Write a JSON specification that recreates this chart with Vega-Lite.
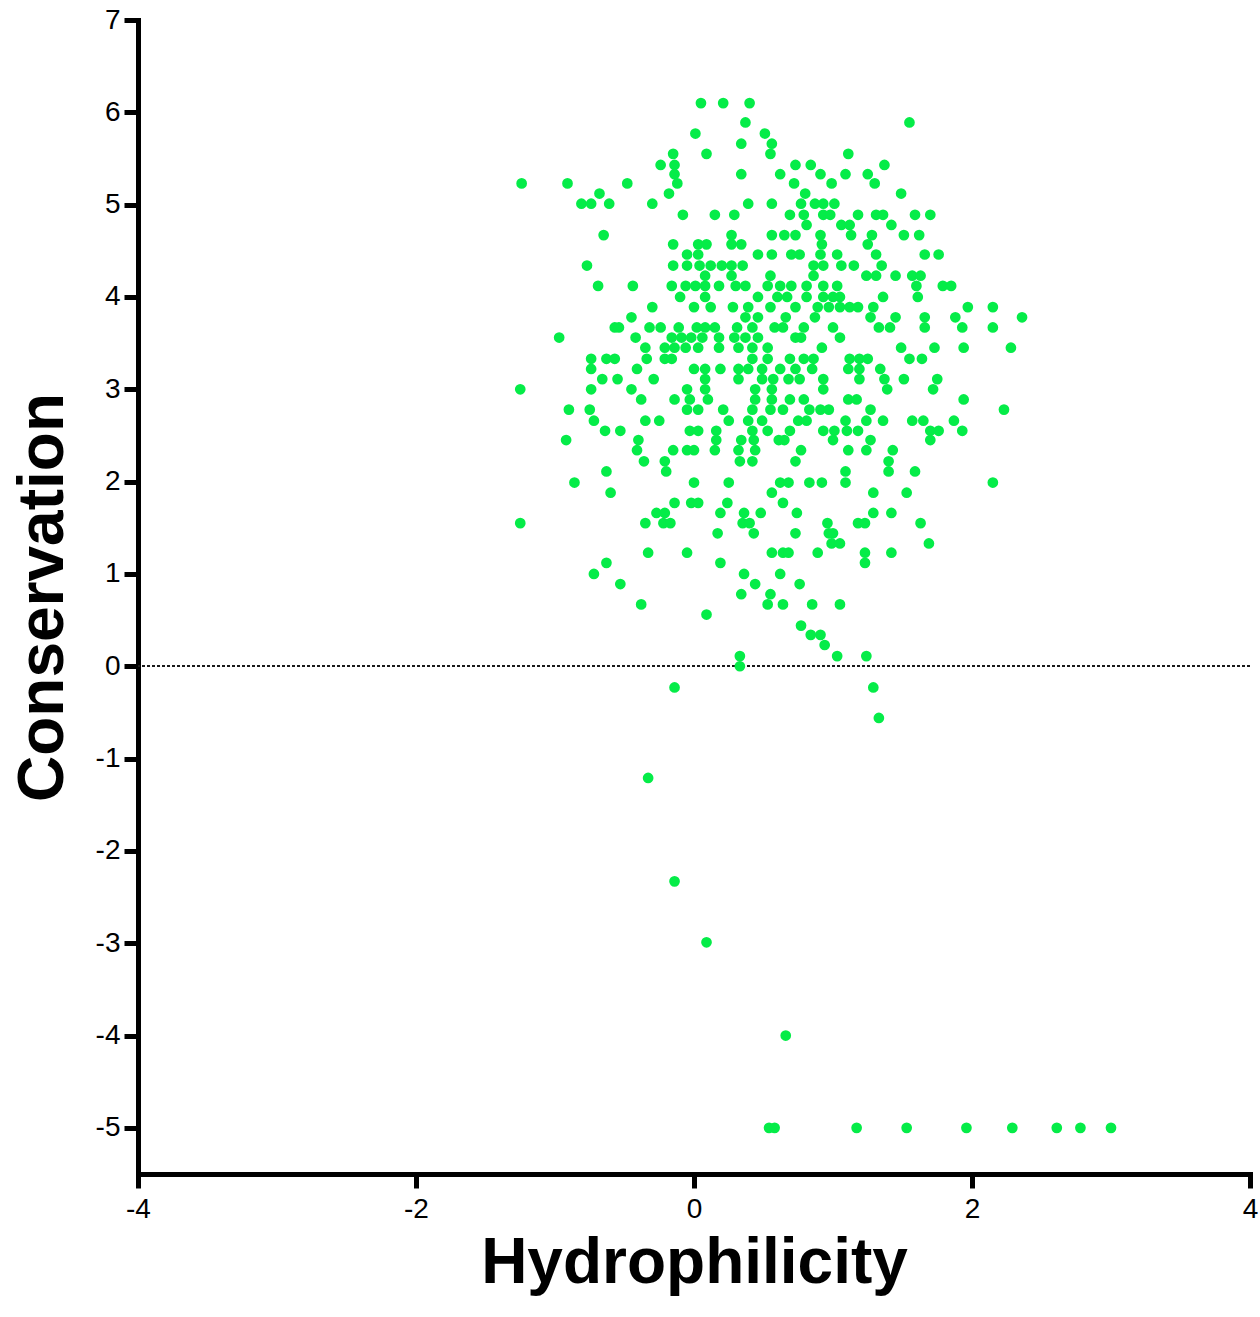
{
  "$schema": "https://vega.github.io/schema/vega-lite/v6.json",
  "width": 1112,
  "height": 1154,
  "autosize": {"type": "none"},
  "padding": {"left": 138, "top": 20, "right": 10, "bottom": 143},
  "background": "white",
  "config": {
    "view": {"stroke": null},
    "axis": {
      "grid": false,
      "domainColor": "#000000",
      "domainWidth": 5,
      "domainCap": "square",
      "tickColor": "#000000",
      "tickWidth": 5,
      "tickSize": 14,
      "labelFont": "Liberation Sans",
      "labelFontSize": 28,
      "labelColor": "#000000",
      "labelExpr": "'' + datum.value",
      "titleFont": "Liberation Sans",
      "titleFontWeight": "bold",
      "titleFontSize": 64,
      "titleColor": "#000000"
    }
  },
  "data": {
    "values": [
      {"h":0.05,"c":6.1},{"h":0.21,"c":6.1},{"h":0.40,"c":6.1},
      {"h":0.37,"c":5.89},{"h":1.55,"c":5.89},
      {"h":0.01,"c":5.77},{"h":0.51,"c":5.77},
      {"h":0.34,"c":5.66},{"h":0.56,"c":5.66},
      {"h":-0.15,"c":5.55},{"h":0.09,"c":5.55},{"h":0.55,"c":5.55},{"h":1.11,"c":5.55},
      {"h":-0.24,"c":5.43},{"h":-0.14,"c":5.43},{"h":0.73,"c":5.43},{"h":0.84,"c":5.43},{"h":1.37,"c":5.43},
      {"h":-0.14,"c":5.33},{"h":0.34,"c":5.33},{"h":0.62,"c":5.33},{"h":0.91,"c":5.33},{"h":1.09,"c":5.33},{"h":1.25,"c":5.33},
      {"h":-1.24,"c":5.23},{"h":-0.91,"c":5.23},{"h":-0.48,"c":5.23},{"h":-0.12,"c":5.23},{"h":0.72,"c":5.23},{"h":0.99,"c":5.23},{"h":1.3,"c":5.23},
      {"h":-0.68,"c":5.12},{"h":-0.18,"c":5.12},{"h":0.8,"c":5.12},{"h":1.49,"c":5.12},
      {"h":-0.81,"c":5.01},{"h":-0.74,"c":5.01},{"h":-0.61,"c":5.01},{"h":-0.3,"c":5.01},{"h":0.39,"c":5.01},{"h":0.56,"c":5.01},{"h":0.77,"c":5.01},{"h":0.87,"c":5.01},{"h":0.93,"c":5.01},{"h":1.01,"c":5.01},
      {"h":-0.08,"c":4.89},{"h":0.15,"c":4.89},{"h":0.29,"c":4.89},{"h":0.69,"c":4.89},{"h":0.79,"c":4.89},{"h":0.93,"c":4.89},{"h":0.98,"c":4.89},{"h":1.18,"c":4.89},{"h":1.31,"c":4.89},{"h":1.36,"c":4.89},{"h":1.59,"c":4.89},{"h":1.7,"c":4.89},
      {"h":0.81,"c":4.78},{"h":1.06,"c":4.78},{"h":1.12,"c":4.78},{"h":1.42,"c":4.78},
      {"h":-0.65,"c":4.67},{"h":0.27,"c":4.67},{"h":0.56,"c":4.67},{"h":0.65,"c":4.67},{"h":0.73,"c":4.67},{"h":0.91,"c":4.67},{"h":1.13,"c":4.67},{"h":1.28,"c":4.67},{"h":1.51,"c":4.67},{"h":1.62,"c":4.67},
      {"h":-0.15,"c":4.57},{"h":0.03,"c":4.57},{"h":0.09,"c":4.57},{"h":0.27,"c":4.57},{"h":0.34,"c":4.57},{"h":0.92,"c":4.57},{"h":1.25,"c":4.57},
      {"h":-0.05,"c":4.46},{"h":0.03,"c":4.46},{"h":0.46,"c":4.46},{"h":0.56,"c":4.46},{"h":0.7,"c":4.46},{"h":0.76,"c":4.46},{"h":0.91,"c":4.46},{"h":1.03,"c":4.46},{"h":1.31,"c":4.46},{"h":1.66,"c":4.46},{"h":1.76,"c":4.46},
      {"h":-0.77,"c":4.34},{"h":-0.15,"c":4.34},{"h":-0.05,"c":4.34},{"h":0.04,"c":4.34},{"h":0.12,"c":4.34},{"h":0.2,"c":4.34},{"h":0.27,"c":4.34},{"h":0.35,"c":4.34},{"h":0.86,"c":4.34},{"h":0.93,"c":4.34},{"h":1.06,"c":4.34},{"h":1.15,"c":4.34},{"h":1.35,"c":4.34},
      {"h":0.08,"c":4.23},{"h":0.27,"c":4.23},{"h":0.55,"c":4.23},{"h":0.86,"c":4.23},{"h":1.24,"c":4.23},{"h":1.31,"c":4.23},{"h":1.45,"c":4.23},{"h":1.57,"c":4.23},{"h":1.63,"c":4.23},
      {"h":-0.69,"c":4.12},{"h":-0.44,"c":4.12},{"h":-0.16,"c":4.12},{"h":-0.06,"c":4.12},{"h":0.01,"c":4.12},{"h":0.08,"c":4.12},{"h":0.18,"c":4.12},{"h":0.3,"c":4.12},{"h":0.37,"c":4.12},{"h":0.53,"c":4.12},{"h":0.62,"c":4.12},{"h":0.7,"c":4.12},{"h":0.81,"c":4.12},{"h":0.93,"c":4.12},{"h":1.03,"c":4.12},{"h":1.6,"c":4.12},{"h":1.79,"c":4.12},{"h":1.85,"c":4.12},
      {"h":-0.1,"c":4.0},{"h":0.08,"c":4.0},{"h":0.46,"c":4.0},{"h":0.6,"c":4.0},{"h":0.67,"c":4.0},{"h":0.81,"c":4.0},{"h":0.93,"c":4.0},{"h":1.0,"c":4.0},{"h":1.05,"c":4.0},{"h":1.36,"c":4.0},{"h":1.61,"c":4.0},
      {"h":-0.3,"c":3.89},{"h":0.0,"c":3.89},{"h":0.12,"c":3.89},{"h":0.28,"c":3.89},{"h":0.39,"c":3.89},{"h":0.55,"c":3.89},{"h":0.73,"c":3.89},{"h":0.89,"c":3.89},{"h":0.97,"c":3.89},{"h":1.05,"c":3.89},{"h":1.12,"c":3.89},{"h":1.18,"c":3.89},{"h":1.29,"c":3.89},{"h":1.97,"c":3.89},{"h":2.15,"c":3.89},
      {"h":-0.45,"c":3.78},{"h":0.37,"c":3.78},{"h":0.46,"c":3.78},{"h":0.66,"c":3.78},{"h":0.87,"c":3.78},{"h":1.27,"c":3.78},{"h":1.45,"c":3.78},{"h":1.66,"c":3.78},{"h":1.88,"c":3.78},{"h":2.36,"c":3.78},
      {"h":-0.57,"c":3.67},{"h":-0.54,"c":3.67},{"h":-0.32,"c":3.67},{"h":-0.24,"c":3.67},{"h":-0.11,"c":3.67},{"h":0.02,"c":3.67},{"h":0.08,"c":3.67},{"h":0.15,"c":3.67},{"h":0.31,"c":3.67},{"h":0.42,"c":3.67},{"h":0.58,"c":3.67},{"h":0.64,"c":3.67},{"h":0.79,"c":3.67},{"h":1.0,"c":3.67},{"h":1.33,"c":3.67},{"h":1.41,"c":3.67},{"h":1.66,"c":3.67},{"h":1.93,"c":3.67},{"h":2.15,"c":3.67},
      {"h":-0.97,"c":3.56},{"h":-0.42,"c":3.56},{"h":-0.16,"c":3.56},{"h":-0.09,"c":3.56},{"h":-0.02,"c":3.56},{"h":0.06,"c":3.56},{"h":0.18,"c":3.56},{"h":0.29,"c":3.56},{"h":0.37,"c":3.56},{"h":0.46,"c":3.56},{"h":0.73,"c":3.56},{"h":0.77,"c":3.56},{"h":1.05,"c":3.56},
      {"h":-0.35,"c":3.45},{"h":-0.21,"c":3.45},{"h":-0.14,"c":3.45},{"h":-0.06,"c":3.45},{"h":0.03,"c":3.45},{"h":0.18,"c":3.45},{"h":0.32,"c":3.45},{"h":0.42,"c":3.45},{"h":0.53,"c":3.45},{"h":0.92,"c":3.45},{"h":1.49,"c":3.45},{"h":1.73,"c":3.45},{"h":1.94,"c":3.45},{"h":2.28,"c":3.45},
      {"h":-0.74,"c":3.33},{"h":-0.63,"c":3.33},{"h":-0.57,"c":3.33},{"h":-0.34,"c":3.33},{"h":-0.21,"c":3.33},{"h":-0.16,"c":3.33},{"h":0.42,"c":3.33},{"h":0.53,"c":3.33},{"h":0.69,"c":3.33},{"h":0.79,"c":3.33},{"h":0.86,"c":3.33},{"h":1.12,"c":3.33},{"h":1.19,"c":3.33},{"h":1.25,"c":3.33},{"h":1.55,"c":3.33},{"h":1.64,"c":3.33},
      {"h":-0.74,"c":3.22},{"h":-0.41,"c":3.22},{"h":0.0,"c":3.22},{"h":0.08,"c":3.22},{"h":0.19,"c":3.22},{"h":0.32,"c":3.22},{"h":0.39,"c":3.22},{"h":0.49,"c":3.22},{"h":0.62,"c":3.22},{"h":0.73,"c":3.22},{"h":0.85,"c":3.22},{"h":1.11,"c":3.22},{"h":1.19,"c":3.22},{"h":1.34,"c":3.22},
      {"h":-0.66,"c":3.11},{"h":-0.55,"c":3.11},{"h":-0.29,"c":3.11},{"h":0.08,"c":3.11},{"h":0.32,"c":3.11},{"h":0.49,"c":3.11},{"h":0.57,"c":3.11},{"h":0.68,"c":3.11},{"h":0.76,"c":3.11},{"h":0.93,"c":3.11},{"h":1.19,"c":3.11},{"h":1.37,"c":3.11},{"h":1.51,"c":3.11},{"h":1.75,"c":3.11},
      {"h":-1.25,"c":3.0},{"h":-0.74,"c":3.0},{"h":-0.45,"c":3.0},{"h":-0.05,"c":3.0},{"h":0.08,"c":3.0},{"h":0.44,"c":3.0},{"h":0.56,"c":3.0},{"h":0.93,"c":3.0},{"h":1.39,"c":3.0},{"h":1.72,"c":3.0},
      {"h":-0.38,"c":2.89},{"h":-0.14,"c":2.89},{"h":-0.03,"c":2.89},{"h":0.1,"c":2.89},{"h":0.44,"c":2.89},{"h":0.56,"c":2.89},{"h":0.69,"c":2.89},{"h":0.79,"c":2.89},{"h":1.11,"c":2.89},{"h":1.17,"c":2.89},{"h":1.94,"c":2.89},
      {"h":-0.9,"c":2.78},{"h":-0.75,"c":2.78},{"h":-0.05,"c":2.78},{"h":0.03,"c":2.78},{"h":0.21,"c":2.78},{"h":0.42,"c":2.78},{"h":0.55,"c":2.78},{"h":0.64,"c":2.78},{"h":0.83,"c":2.78},{"h":0.91,"c":2.78},{"h":0.97,"c":2.78},{"h":1.27,"c":2.78},{"h":2.23,"c":2.78},
      {"h":-0.72,"c":2.66},{"h":-0.35,"c":2.66},{"h":-0.25,"c":2.66},{"h":0.25,"c":2.66},{"h":0.39,"c":2.66},{"h":0.49,"c":2.66},{"h":0.75,"c":2.66},{"h":0.81,"c":2.66},{"h":1.09,"c":2.66},{"h":1.24,"c":2.66},{"h":1.36,"c":2.66},{"h":1.57,"c":2.66},{"h":1.65,"c":2.66},{"h":1.87,"c":2.66},
      {"h":-0.64,"c":2.55},{"h":-0.53,"c":2.55},{"h":-0.03,"c":2.55},{"h":0.03,"c":2.55},{"h":0.16,"c":2.55},{"h":0.42,"c":2.55},{"h":0.53,"c":2.55},{"h":0.69,"c":2.55},{"h":0.93,"c":2.55},{"h":1.01,"c":2.55},{"h":1.1,"c":2.55},{"h":1.18,"c":2.55},{"h":1.7,"c":2.55},{"h":1.76,"c":2.55},{"h":1.93,"c":2.55},
      {"h":-0.92,"c":2.45},{"h":-0.4,"c":2.45},{"h":0.16,"c":2.45},{"h":0.34,"c":2.45},{"h":0.43,"c":2.45},{"h":0.61,"c":2.45},{"h":0.65,"c":2.45},{"h":1.0,"c":2.45},{"h":1.27,"c":2.45},{"h":1.7,"c":2.45},
      {"h":-0.41,"c":2.34},{"h":-0.15,"c":2.34},{"h":-0.05,"c":2.34},{"h":0.0,"c":2.34},{"h":0.15,"c":2.34},{"h":0.32,"c":2.34},{"h":0.44,"c":2.34},{"h":0.77,"c":2.34},{"h":1.11,"c":2.34},{"h":1.24,"c":2.34},{"h":1.43,"c":2.34},
      {"h":-0.36,"c":2.22},{"h":-0.21,"c":2.22},{"h":0.33,"c":2.22},{"h":0.42,"c":2.22},{"h":0.73,"c":2.22},{"h":1.4,"c":2.22},
      {"h":-0.63,"c":2.11},{"h":-0.2,"c":2.11},{"h":1.09,"c":2.11},{"h":1.4,"c":2.11},{"h":1.59,"c":2.11},
      {"h":-0.86,"c":1.99},{"h":0.0,"c":1.99},{"h":0.25,"c":1.99},{"h":0.62,"c":1.99},{"h":0.68,"c":1.99},{"h":0.83,"c":1.99},{"h":0.92,"c":1.99},{"h":1.09,"c":1.99},{"h":2.15,"c":1.99},
      {"h":-0.6,"c":1.88},{"h":0.56,"c":1.88},{"h":1.29,"c":1.88},{"h":1.53,"c":1.88},
      {"h":-0.14,"c":1.77},{"h":-0.02,"c":1.77},{"h":0.03,"c":1.77},{"h":0.24,"c":1.77},{"h":0.64,"c":1.77},
      {"h":-0.27,"c":1.66},{"h":-0.21,"c":1.66},{"h":0.19,"c":1.66},{"h":0.36,"c":1.66},{"h":0.48,"c":1.66},{"h":0.74,"c":1.66},{"h":1.29,"c":1.66},{"h":1.42,"c":1.66},
      {"h":-1.25,"c":1.55},{"h":-0.35,"c":1.55},{"h":-0.22,"c":1.55},{"h":-0.17,"c":1.55},{"h":0.35,"c":1.55},{"h":0.4,"c":1.55},{"h":0.96,"c":1.55},{"h":1.18,"c":1.55},{"h":1.23,"c":1.55},{"h":1.63,"c":1.55},
      {"h":0.17,"c":1.44},{"h":0.43,"c":1.44},{"h":0.73,"c":1.44},{"h":0.97,"c":1.44},{"h":1.0,"c":1.44},
      {"h":0.99,"c":1.33},{"h":1.05,"c":1.33},{"h":1.69,"c":1.33},
      {"h":-0.33,"c":1.23},{"h":-0.05,"c":1.23},{"h":0.56,"c":1.23},{"h":0.64,"c":1.23},{"h":0.68,"c":1.23},{"h":0.89,"c":1.23},{"h":1.23,"c":1.23},{"h":1.42,"c":1.23},
      {"h":-0.63,"c":1.12},{"h":0.19,"c":1.12},{"h":1.23,"c":1.12},
      {"h":-0.72,"c":1.0},{"h":0.36,"c":1.0},{"h":0.62,"c":1.0},
      {"h":-0.53,"c":0.89},{"h":0.44,"c":0.89},{"h":0.76,"c":0.89},
      {"h":0.34,"c":0.78},{"h":0.55,"c":0.78},
      {"h":-0.38,"c":0.67},{"h":0.53,"c":0.67},{"h":0.64,"c":0.67},{"h":0.85,"c":0.67},{"h":1.05,"c":0.67},
      {"h":0.09,"c":0.56},
      {"h":0.77,"c":0.44},
      {"h":0.84,"c":0.34},{"h":0.91,"c":0.34},
      {"h":0.94,"c":0.23},
      {"h":0.33,"c":0.11},{"h":1.03,"c":0.11},{"h":1.24,"c":0.11},
      {"h":0.33,"c":0.0},
      {"h":-0.14,"c":-0.23},{"h":1.29,"c":-0.23},
      {"h":1.33,"c":-0.56},
      {"h":-0.33,"c":-1.21},
      {"h":-0.14,"c":-2.33},
      {"h":0.09,"c":-2.99},
      {"h":0.66,"c":-4.0},
      {"h":0.54,"c":-5.0},{"h":0.58,"c":-5.0},{"h":1.17,"c":-5.0},{"h":1.53,"c":-5.0},{"h":1.96,"c":-5.0},{"h":2.29,"c":-5.0},{"h":2.61,"c":-5.0},{"h":2.78,"c":-5.0},{"h":3.0,"c":-5.0}
    ]
  },
  "layer": [
    {
      "mark": {"type": "rule", "color": "#1a1a1a", "strokeWidth": 1.5, "strokeDash": [3, 2]},
      "encoding": {
        "y": {"datum": 0, "type": "quantitative"}
      }
    },
    {
      "mark": {"type": "circle", "size": 115, "opacity": 1, "color": "#05EC48"},
      "encoding": {
        "x": {
          "field": "h",
          "type": "quantitative",
          "title": "Hydrophilicity",
          "scale": {"domain": [-4, 4], "nice": false, "zero": false},
          "axis": {
            "values": [-4, -2, 0, 2, 4],
            "labelFlush": false,
            "labelPadding": 7,
            "titlePadding": 8
          }
        },
        "y": {
          "field": "c",
          "type": "quantitative",
          "title": "Conservation",
          "scale": {"domain": [-5.5, 7], "nice": false, "zero": false},
          "axis": {
            "values": [-5, -4, -3, -2, -1, 0, 1, 2, 3, 4, 5, 6, 7],
            "labelPadding": 4,
            "titlePadding": 20
          }
        }
      }
    }
  ]
}
